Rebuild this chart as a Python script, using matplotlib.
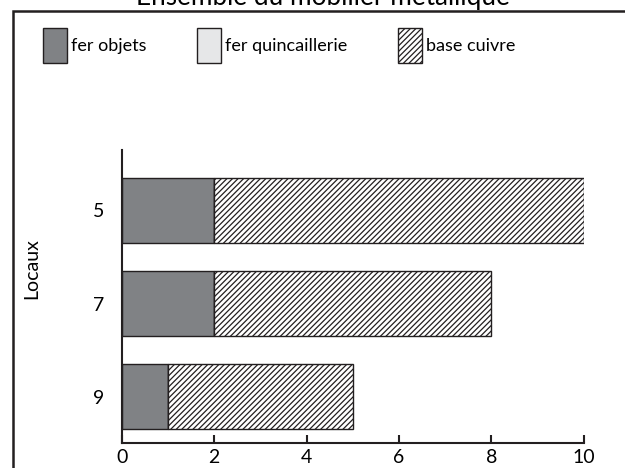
import matplotlib.pyplot as plt
from matplotlib.patches import Rectangle

plt.rcParams['font.family'] = ['Lato', 'DejaVu Sans']
plt.rcParams['hatch.linewidth'] = 0.9

# données
locaux = ['5', '7', '9']
fer_objets = [2, 2, 1]
fer_quincaillerie = [0, 0, 0]
base_cuivre = [8, 6, 4]

fig = plt.figure(figsize=(6.25, 4.68), dpi=100)
ax = fig.add_axes([0.195, 0.0534, 0.739, 0.626])

pos = list(range(len(locaux)))
left2 = [a + b for a, b in zip(fer_objets, fer_quincaillerie)]

h1 = ax.barh(pos, fer_objets, height=0.7, color='#808285', edgecolor='#231f20', linewidth=1, label='fer objets')
h2 = ax.barh(pos, fer_quincaillerie, left=fer_objets, height=0.7, color='#e6e7e8', edgecolor='#231f20', linewidth=1, label='fer quincaillerie')
h3 = ax.barh(pos, base_cuivre, left=left2, height=0.7, color='white', edgecolor='#231f20', linewidth=1, hatch='//////', label='base cuivre')

ax.set_yticks(pos)
ax.set_yticklabels(locaux, fontsize=14)
ax.set_ylim(2.5, -0.65)
ax.set_xlim(0, 10)
ax.set_xticks([0, 2, 4, 6, 8, 10])
ax.tick_params(axis='x', direction='in', length=6, width=1.5, labelsize=14, pad=4, color='#231f20')
ax.tick_params(axis='y', length=0, pad=13)
ax.spines['top'].set_visible(False)
ax.spines['right'].set_visible(False)
for s in ['left', 'bottom']:
    ax.spines[s].set_linewidth(1.5)
    ax.spines[s].set_color('#231f20')
ax.set_ylabel('Locaux', fontsize=14)
ax.yaxis.set_label_coords(-0.177, 0.597)

# légende
fig.legend(handles=[h1, h2, h3], loc='upper left', bbox_to_anchor=(0.057, 0.955), ncol=3,
           frameon=False, fontsize=13, handlelength=1.35, handleheight=2.6,
           handletextpad=0.2, columnspacing=2.8, borderaxespad=0)

# titre (coupé en haut)
fig.text(0.517, 1 - 5 / 468, 'Ensemble du mobilier métallique', ha='center', va='baseline', fontsize=18.8)

# cadre
fig.patches.append(Rectangle((13 / 625, -0.1), 1.2, 1 - 11 / 468 + 0.1, transform=fig.transFigure,
                             fill=False, edgecolor='#231f20', linewidth=1.8))

fig.savefig('out.png', dpi=100)
